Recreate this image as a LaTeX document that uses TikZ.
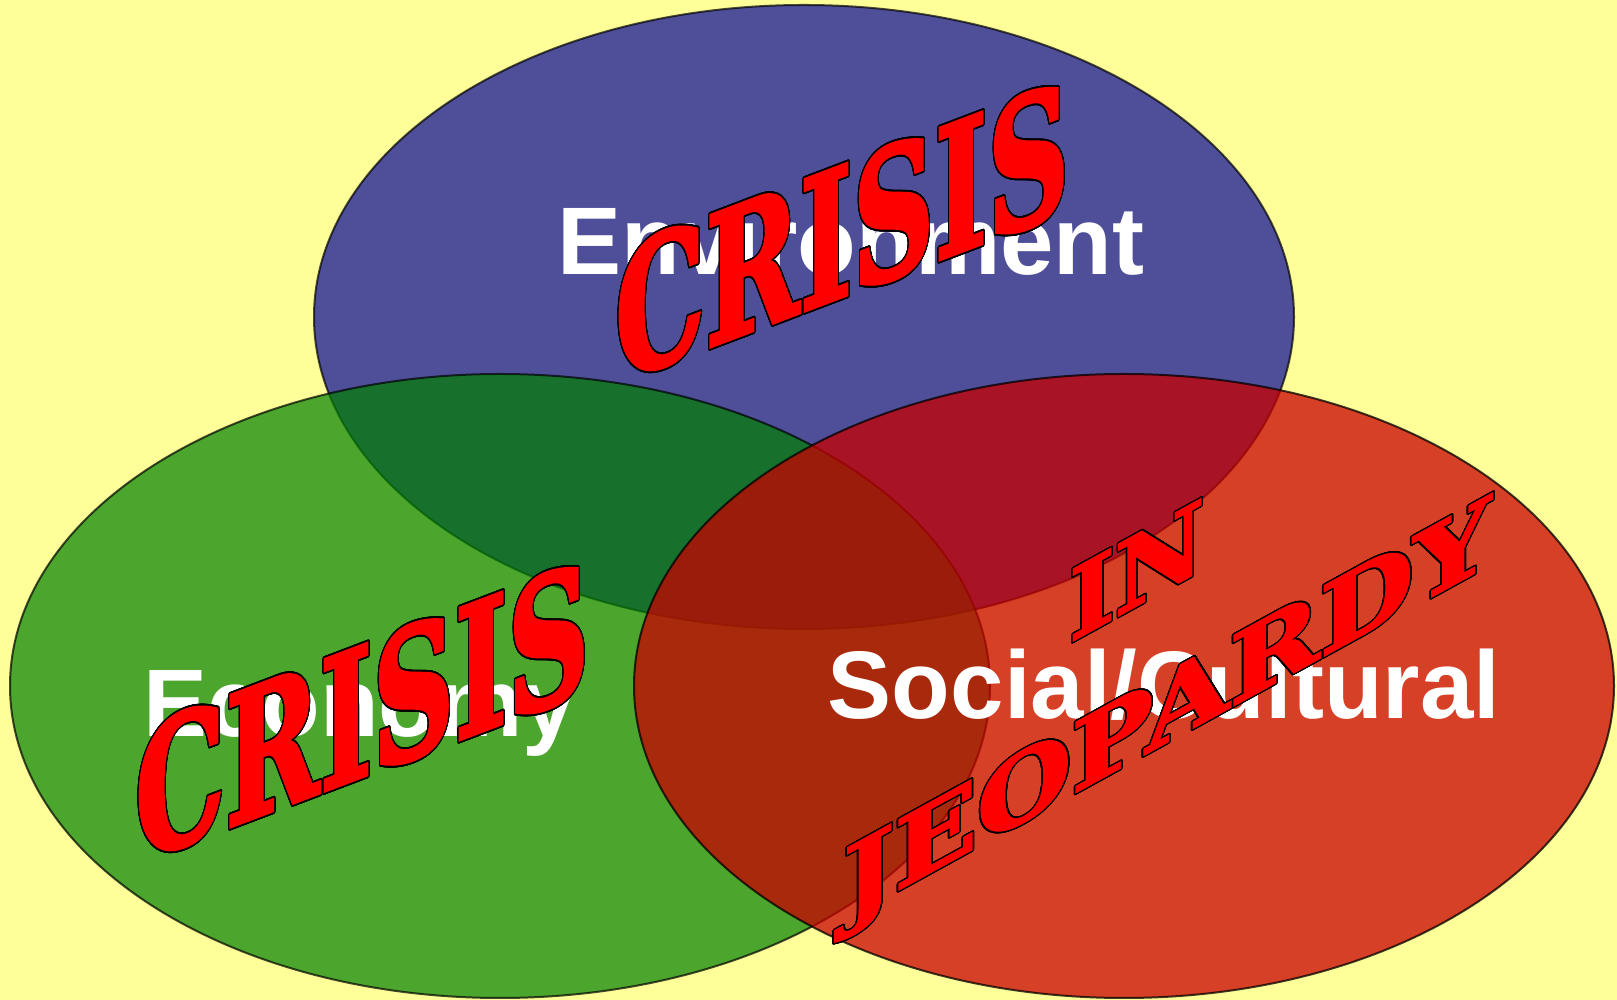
\documentclass[tikz,border=0pt]{standalone}
\usepackage{fontspec}
\usepackage{contour}
\setmainfont{Liberation Sans}
\newfontfamily\wafont{DejaVu Serif}[BoldFeatures={FakeBold=2}]
\contournumber{32}
\definecolor{bgyellow}{RGB}{255,255,153}
\definecolor{envblue}{RGB}{0,0,153}
\definecolor{ecogreen}{RGB}{0,128,0}
\definecolor{socred}{RGB}{200,0,0}
\begin{document}
\begin{tikzpicture}[x=0.5pt,y=0.5pt,
  circ/.style={draw=black,line width=1pt},
  label/.style={text=white,font=\fontsize{48}{48}\selectfont\bfseries,inner sep=0pt,anchor=base},
  wordart/.style={inner sep=0pt,outer sep=0pt,transform shape,text=red,anchor=base west}]
\useasboundingbox (0,0) rectangle (1617,1000);
\fill[bgyellow] (0,0) rectangle (1617,1000);
% circles
\path[circ,fill=envblue,opacity=0.69] (804,683) ellipse [x radius=490,y radius=312];
\path[circ,fill=ecogreen,opacity=0.7] (500,314) ellipse [x radius=490,y radius=312];
\path[circ,fill=socred,opacity=0.75] (1124,314) ellipse [x radius=490,y radius=312];
% labels
\node[label] (env) at (851,725) {Environment};
\node[label] (eco) at (360,263) {Economy};
\node[label] (soc) at (1164,281) {Social/Cultural};
% word art
\contourlength{0.9pt}
\begin{scope}[shift={(615,617)},yslant=0.38,xscale=0.63]
\node[wordart,font=\wafont\bfseries\fontsize{90}{90}\selectfont] (crisisA) at (0,0) {\contour{black}{CRISIS}};
\end{scope}
\begin{scope}[shift={(135,137)},yslant=0.38,xscale=0.63]
\node[wordart,font=\wafont\bfseries\fontsize{90}{90}\selectfont] (crisisB) at (0,0) {\contour{black}{CRISIS}};
\end{scope}
\contourlength{0.7pt}
\begin{scope}[shift={(1069,357)},yslant=0.55,xscale=1.0]
\node[wordart,font=\wafont\bfseries\fontsize{49}{49}\selectfont] (in) at (0,0) {\contour{black}{IN}};
\end{scope}
\begin{scope}[shift={(843,79.5)},yslant=0.55,xscale=1.13]
\node[wordart,font=\wafont\bfseries\fontsize{48}{48}\selectfont] (jeo) at (0,0) {\contour{black}{JEOPARDY}};
\end{scope}
\end{tikzpicture}
\end{document}
